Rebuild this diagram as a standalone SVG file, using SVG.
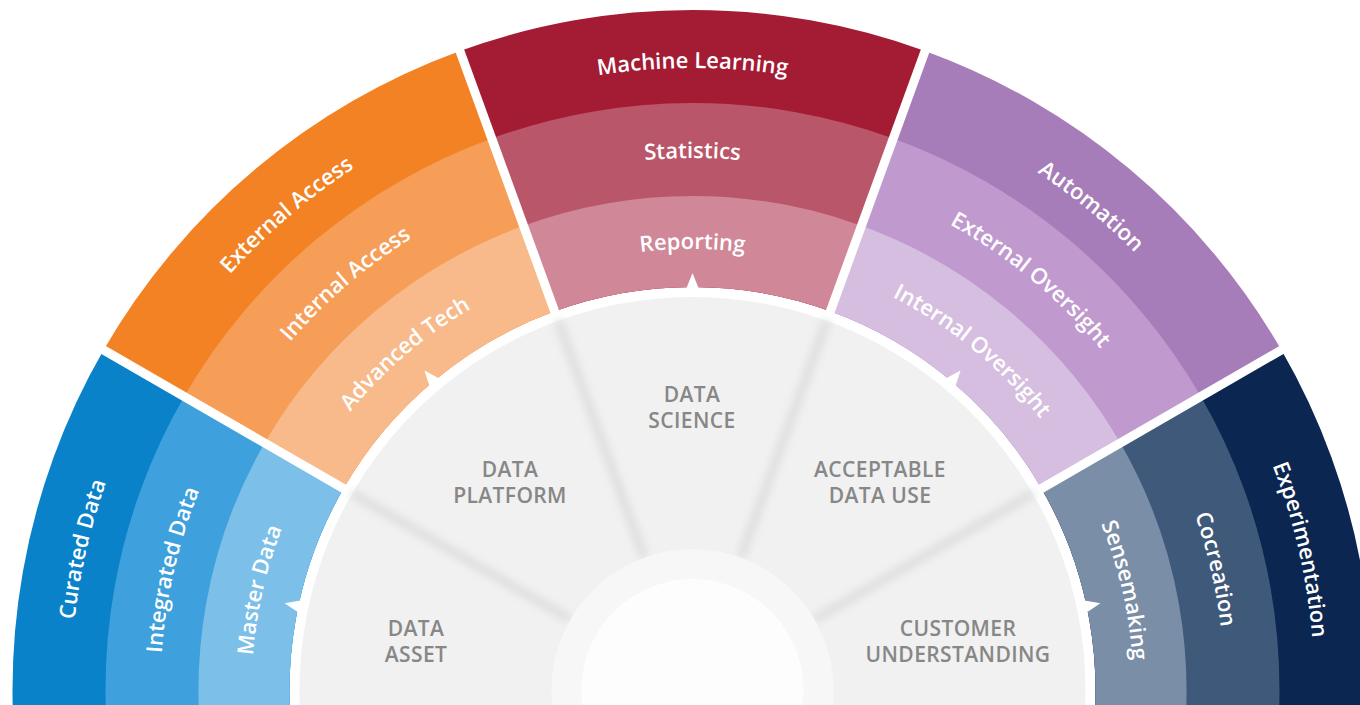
<svg xmlns="http://www.w3.org/2000/svg" width="1360" height="705" viewBox="0 0 1360 705">
<style>
.band-label{font-family:"Open Sans","Liberation Sans",sans-serif;font-size:22px;font-weight:600;fill:#ffffff;}
.core-label{font-family:"Open Sans","Liberation Sans",sans-serif;font-size:21px;font-weight:600;letter-spacing:0.4px;fill:#878787;text-anchor:middle;}
.gap{stroke:#ffffff;stroke-width:9;fill:none;}
.divider{stroke:#dcdcdc;stroke-width:8;fill:none;filter:url(#soft);}
.pointer{fill:#ffffff;}
</style>
<defs>
<filter id="soft" x="-50%" y="-50%" width="200%" height="200%"><feGaussianBlur stdDeviation="4"/></filter>
<path id="sec0" d="M459.93,51 A680,680 0 0 1 925.07,51 L830.33,311.31 A403,403 0 0 0 554.67,311.31 Z"/>
<path id="sec1" d="M491.73,138.4 A587,587 0 0 1 893.27,138.4 L830.33,311.31 A403,403 0 0 0 554.67,311.31 Z"/>
<path id="sec2" d="M523.54,225.79 A494,494 0 0 1 861.46,225.79 L830.33,311.31 A403,403 0 0 0 554.67,311.31 Z"/>
<path id="arcO" d="M292.68,213.52 A622,622 0 0 1 1092.32,213.52"/>
<path id="arcM" d="M350.54,282.47 A532,532 0 0 1 1034.46,282.47"/>
<path id="arcI" d="M409.03,352.18 A441,441 0 0 1 975.97,352.18"/>
<path id="ptr" d="M685.5,290.5 L692.5,273 L699.5,290.5 Z"/>
<line id="gapline" x1="562.53" y1="332.92" x2="453.09" y2="32.22"/>
<line id="divline" x1="644.28" y1="557.5" x2="558.09" y2="320.7"/>
</defs>
<rect x="0" y="0" width="1360" height="705" fill="#ffffff"/>

<!-- Data Asset segment (blue) -->
<g id="seg-data-asset" transform="rotate(-80 692.5 690)">
  <g id="curated-data"><use href="#sec0" fill="#0a82ca"/></g>
  <g id="integrated-data"><use href="#sec1" fill="#3ea0dc"/></g>
  <g id="master-data"><use href="#sec2" fill="#7cbfe8"/></g>
</g>
<!-- Data Platform segment (orange) -->
<g id="seg-data-platform" transform="rotate(-40 692.5 690)">
  <g id="external-access"><use href="#sec0" fill="#f38224"/></g>
  <g id="internal-access"><use href="#sec1" fill="#f69e58"/></g>
  <g id="advanced-tech"><use href="#sec2" fill="#f8ba8a"/></g>
</g>
<!-- Data Science segment (red) -->
<g id="seg-data-science">
  <g id="machine-learning"><use href="#sec0" fill="#a41b34"/></g>
  <g id="statistics"><use href="#sec1" fill="#ba566a"/></g>
  <g id="reporting"><use href="#sec2" fill="#d08798"/></g>
</g>
<!-- Acceptable Data Use segment (purple) -->
<g id="seg-acceptable-data-use" transform="rotate(40 692.5 690)">
  <g id="automation"><use href="#sec0" fill="#a77db9"/></g>
  <g id="external-oversight"><use href="#sec1" fill="#c099ce"/></g>
  <g id="internal-oversight"><use href="#sec2" fill="#d6bee0"/></g>
</g>
<!-- Customer Understanding segment (navy) -->
<g id="seg-customer-understanding" transform="rotate(80 692.5 690)">
  <g id="experimentation"><use href="#sec0" fill="#0b2650"/></g>
  <g id="cocreation"><use href="#sec1" fill="#3e597a"/></g>
  <g id="sensemaking"><use href="#sec2" fill="#7a8ea7"/></g>
</g>

<!-- white gaps between segments -->
<g id="gaps">
  <use href="#gapline" class="gap" transform="rotate(-40 692.5 690)"/>
  <use href="#gapline" class="gap"/>
  <use href="#gapline" class="gap" transform="rotate(40 692.5 690)"/>
  <use href="#gapline" class="gap" transform="rotate(80 692.5 690)"/>
</g>

<!-- core grey disc -->
<g id="core">
  <circle cx="692.5" cy="690" r="393" fill="#f1f1f1"/>
  <g id="core-dividers">
    <use href="#divline" class="divider" transform="rotate(-40 692.5 690)"/>
    <use href="#divline" class="divider"/>
    <use href="#divline" class="divider" transform="rotate(40 692.5 690)"/>
    <use href="#divline" class="divider" transform="rotate(80 692.5 690)"/>
  </g>
  <circle cx="692.5" cy="690" r="141" fill="#f7f7f7"/>
  <circle cx="692.5" cy="690" r="111" fill="#fdfdfd"/>
</g>

<!-- pointers -->
<g id="connectors">
  <use href="#ptr" class="pointer" transform="rotate(-78 692.5 690)"/>
  <use href="#ptr" class="pointer" transform="rotate(-40 692.5 690)"/>
  <use href="#ptr" class="pointer"/>
  <use href="#ptr" class="pointer" transform="rotate(40 692.5 690)"/>
  <use href="#ptr" class="pointer" transform="rotate(78 692.5 690)"/>
</g>

<!-- band labels -->
<g id="band-labels" class="band-label">
  <text text-anchor="middle" transform="rotate(-77 692.5 690)"><textPath href="#arcO" startOffset="50%">Curated Data</textPath></text>
  <text text-anchor="middle" transform="rotate(-77 692.5 690)"><textPath href="#arcM" startOffset="50%">Integrated Data</textPath></text>
  <text text-anchor="middle" transform="rotate(-77 692.5 690)"><textPath href="#arcI" startOffset="50%">Master Data</textPath></text>
  <text text-anchor="middle" transform="rotate(-40.5 692.5 690)"><textPath href="#arcO" startOffset="50%">External Access</textPath></text>
  <text text-anchor="middle" transform="rotate(-40.5 692.5 690)"><textPath href="#arcM" startOffset="50%">Internal Access</textPath></text>
  <text text-anchor="middle" transform="rotate(-40.5 692.5 690)"><textPath href="#arcI" startOffset="50%">Advanced Tech</textPath></text>
  <text text-anchor="middle"><textPath href="#arcO" startOffset="50%">Machine Learning</textPath></text>
  <text text-anchor="middle"><textPath href="#arcM" startOffset="50%">Statistics</textPath></text>
  <text text-anchor="middle"><textPath href="#arcI" startOffset="50%">Reporting</textPath></text>
  <text text-anchor="middle" transform="rotate(39.5 692.5 690)"><textPath href="#arcO" startOffset="50%">Automation</textPath></text>
  <text text-anchor="middle" transform="rotate(39.5 692.5 690)"><textPath href="#arcM" startOffset="50%">External Oversight</textPath></text>
  <text text-anchor="middle" transform="rotate(39.5 692.5 690)"><textPath href="#arcI" startOffset="50%">Internal Oversight</textPath></text>
  <text text-anchor="middle" transform="rotate(77 692.5 690)"><textPath href="#arcO" startOffset="50%">Experimentation</textPath></text>
  <text text-anchor="middle" transform="rotate(77 692.5 690)"><textPath href="#arcM" startOffset="50%">Cocreation</textPath></text>
  <text text-anchor="middle" transform="rotate(77 692.5 690)"><textPath href="#arcI" startOffset="50%">Sensemaking</textPath></text>
</g>

<!-- core sector labels -->
<g id="core-data-asset" class="core-label"><text x="416" y="636">DATA</text><text x="416" y="662">ASSET</text></g>
<g id="core-data-platform" class="core-label"><text x="510" y="477">DATA</text><text x="510" y="503">PLATFORM</text></g>
<g id="core-data-science" class="core-label"><text x="692" y="402">DATA</text><text x="692" y="428">SCIENCE</text></g>
<g id="core-acceptable-data-use" class="core-label"><text x="880" y="477">ACCEPTABLE</text><text x="880" y="503">DATA USE</text></g>
<g id="core-customer-understanding" class="core-label"><text x="958" y="636">CUSTOMER</text><text x="958" y="662">UNDERSTANDING</text></g>
</svg>
